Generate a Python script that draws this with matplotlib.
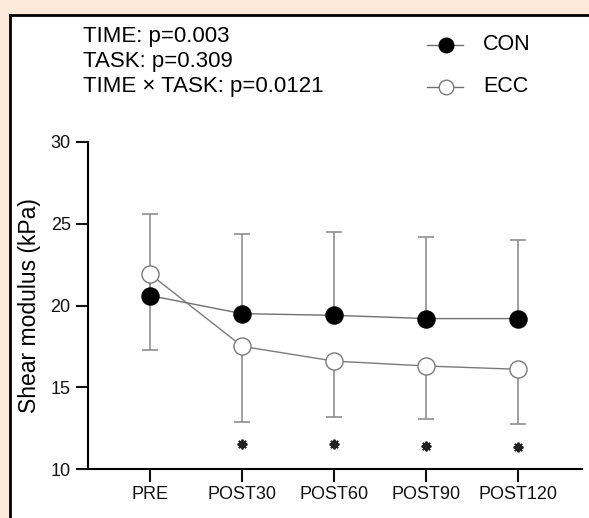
import matplotlib
matplotlib.use("Agg")
import matplotlib.pyplot as plt
from matplotlib.patches import Rectangle
from matplotlib.lines import Line2D
import numpy as np

# data
times = ["PRE", "POST30", "POST60", "POST90", "POST120"]
con_mean = [20.6, 19.5, 19.4, 19.2, 19.2]
con_sd = [5.0, 4.9, 5.1, 5.0, 4.8]
ecc_mean = [21.9, 17.5, 16.6, 16.3, 16.1]
ecc_sd = [4.65, 4.6, 3.45, 3.25, 3.35]
star_x = [1, 2, 3, 4]
star_y = [11.55, 11.55, 11.4, 11.35]
stats = ["TIME: p=0.003", "TASK: p=0.309", "TIME \u00d7 TASK: p=0.0121"]

plt.rcParams["font.family"] = ["Liberation Sans", "DejaVu Sans"]

W, H = 589, 518
fig = plt.figure(figsize=(W / 100, H / 100), dpi=100)
fig.patch.set_facecolor("#fce9da")

# white panel with black left/top border
fig.patches.append(Rectangle((10 / W, 0), 1, 1 - 15 / H, transform=fig.transFigure,
                             facecolor="white", edgecolor="none", zorder=-5))
fig.lines.append(Line2D([10 / W, 10 / W], [0, 1 - 15 / H], transform=fig.transFigure,
                        color="black", lw=2))
fig.lines.append(Line2D([10 / W, 1], [1 - 15 / H, 1 - 15 / H], transform=fig.transFigure,
                        color="black", lw=2))

ax = fig.add_axes([88 / W, 49 / H, (582 - 88) / W, (469 - 142) / H])
ax.set_facecolor("none")
ax.set_zorder(2)
x = np.arange(len(times))

ax.errorbar(x, con_mean, yerr=[np.zeros(5), con_sd], fmt="none", ecolor="#8f8f8f",
            elinewidth=1.2, capsize=6, capthick=1.2, zorder=1)
ax.errorbar(x, ecc_mean, yerr=[ecc_sd, np.zeros(5)], fmt="none", ecolor="#8f8f8f",
            elinewidth=1.2, capsize=6, capthick=1.2, zorder=1)
ax.plot(x, con_mean, color="#707070", lw=1, marker="o", ms=12.3,
        mfc="black", mec="black", zorder=3)
ax.plot(x, ecc_mean, color="#7a7a7a", lw=1, marker="o", ms=12.3,
        mfc="white", mec="#7a7a7a", mew=1, zorder=3)

# significance asterisks
ax.plot(star_x, star_y, ls="none", marker=(8, 2, 0), ms=7, mew=1.4,
        color="#222222", zorder=3)

ax.set_xlim(-0.68, 4.7)
ax.set_ylim(10, 30)
ax.set_yticks([10, 15, 20, 25, 30])
ax.set_xticks(x)
ax.set_xticklabels(times)
ax.tick_params(axis="both", length=9, width=1.5, labelsize=13, direction="out",
               pad=3.5, colors="#111111")
for s in ["top", "right"]:
    ax.spines[s].set_visible(False)
for s in ["left", "bottom"]:
    ax.spines[s].set_linewidth(1.5)
ax.set_ylabel("Shear modulus (kPa)", fontsize=16.5, labelpad=7)

# p-value text
for i, t in enumerate(stats):
    fig.text(83 / W, 1 - (42 + 25 * i) / H, t, fontsize=16, va="baseline", ha="left")

# legend
for i, (lab, fc, ec) in enumerate([("CON", "black", "black"), ("ECC", "white", "#7a7a7a")]):
    yy = 1 - (45 + 42 * i) / H
    fig.lines.append(Line2D([427 / W, 463 / W], [yy, yy], transform=fig.transFigure,
                            color="#707070", lw=1))
    fig.lines.append(Line2D([446 / W], [yy], transform=fig.transFigure, marker="o",
                            ms=10.5, mfc=fc, mec=ec, lw=0))
    fig.text(483 / W, yy, lab, fontsize=15.5, va="center", ha="left")

fig.savefig("out.png", dpi=100)
